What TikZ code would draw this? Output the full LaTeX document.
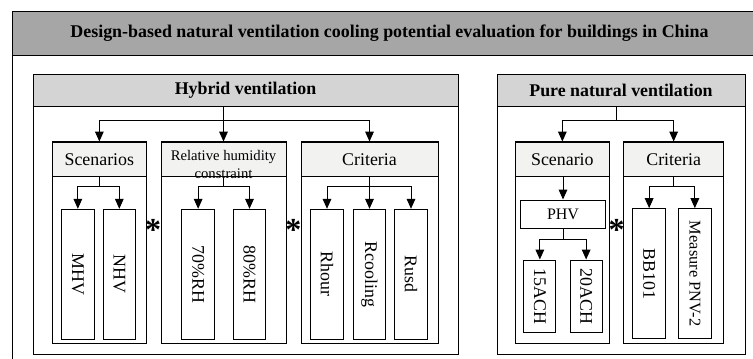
\documentclass[tikz,border=0pt]{standalone}
\usepackage{fontspec}
\setmainfont{Liberation Serif}
\usetikzlibrary{arrows.meta}
\definecolor{bandgray}{RGB}{166,166,166}
\definecolor{headgray}{RGB}{212,212,212}
\definecolor{subgray}{RGB}{242,243,240}
\tikzset{every picture/.style={line width=0.75pt}}
\tikzset{
  titleband/.style={draw, fill=bandgray, inner sep=0pt, font=\fontsize{13.45}{15}\selectfont\bfseries},
  panel/.style={draw, minimum height=210pt, inner sep=0pt},
  panelhead/.style={draw, fill=headgray, minimum height=24pt, inner sep=0pt, font=\fontsize{13.4}{15}\selectfont\bfseries},
  subbox/.style={draw, minimum height=151pt, inner sep=0pt},
  subhead/.style={draw, fill=subgray, minimum height=26pt, inner sep=0pt, font=\fontsize{13.4}{15}\selectfont},
  leaf/.style={draw, fill=white, minimum width=24.25pt, minimum height=97.5pt, inner sep=0pt, font=\fontsize{13.4}{15}\selectfont},
  achbox/.style={draw, fill=white, minimum width=23.8pt, minimum height=54.5pt, inner sep=0pt, font=\fontsize{13.4}{15}\selectfont},
  arr/.style={-{Triangle[length=7.5pt,width=6.5pt]}},
  star/.style={inner sep=0pt, font=\fontsize{24}{24}\selectfont\bfseries}
}

\begin{document}
\begin{tikzpicture}[x=0.75pt,y=0.75pt,yscale=-1,xscale=1]
\useasboundingbox (0,0) rectangle (753,358);

%Shape: Rectangle [outer frame]
\draw (12,11) rectangle (767,372);
% Text Node
\node[titleband, minimum width=566.25pt, minimum height=33pt] (title) at (389.5,33) {Design-based natural ventilation cooling potential evaluation for buildings in China};

%Shape: Rectangle [hybrid panel]
\node[panel, minimum width=318.75pt] (hyb) at (245.5,214) {};
\node[panelhead, minimum width=318.75pt] (hybhead) at (245.5,90) {Hybrid ventilation};
%Shape: Rectangle [pure panel]
\node[panel, minimum width=186pt] (pure) at (621,214) {};
\node[panelhead, minimum width=186pt] (purehead) at (621,90) {Pure natural ventilation};

%Shape: Rectangle [hybrid groups]
\node[subbox, minimum width=70pt] (scen) at (99.35,242.65) {};
\node[subhead, minimum width=70pt] (scenhead) at (99.35,159.35) {Scenarios};
\node[subbox, minimum width=93.75pt] (rh) at (223.5,242.65) {};
\node[subhead, minimum width=93.75pt, align=center, font=\fontsize{11}{13.2}\selectfont] (rhhead) at (223.5,159.35) {\raisebox{-7.5pt}[0pt][0pt]{\begin{tabular}{@{}c@{}}Relative humidity\\constraint\end{tabular}}};
\node[subbox, minimum width=102.75pt] (crit) at (369.5,242.65) {};
\node[subhead, minimum width=102.75pt] (crithead) at (369.5,159.35) {Criteria};

%Shape: Rectangle [pure groups]
\node[subbox, minimum width=70pt] (pscen) at (562.35,242.65) {};
\node[subhead, minimum width=70pt] (pscenhead) at (562.35,159.35) {Scenario};
\node[subbox, minimum width=74.5pt] (pcrit) at (673.65,242.65) {};
\node[subhead, minimum width=74.5pt] (pcrithead) at (673.65,159.35) {Criteria};

% Leaves
\node[leaf] (mhv) at (77.85,274.3) {\rotatebox{-90}{MHV}};
\node[leaf] (nhv) at (119.3,274.3) {\rotatebox{-90}{NHV}};
\node[leaf] (rh70) at (198.15,274.3) {\rotatebox{-90}{70\%RH}};
\node[leaf] (rh80) at (249.5,274.3) {\rotatebox{-90}{80\%RH}};
\node[leaf] (rhour) at (327,274.3) {\rotatebox{-90}{Rhour}};
\node[leaf] (rcool) at (369.5,274.3) {\rotatebox{-90}{Rcooling}};
\node[leaf] (rusd) at (411,274.3) {\rotatebox{-90}{Rusd}};
\node[draw, fill=white, minimum width=64.2pt, minimum height=21.2pt, inner sep=0pt, font=\fontsize{12}{14}\selectfont] (phv) at (563,214.15) {PHV};
\node[achbox] (ach15) at (539.85,296.35) {\rotatebox{-90}{15ACH}};
\node[achbox] (ach20) at (586.15,296.35) {\rotatebox{-90}{20ACH}};
\node[leaf] (bb) at (649.15,273.65) {\rotatebox{-90}{BB101}};
\node[leaf, font=\fontsize{12.3}{14}\selectfont] (pnv) at (694.85,273.65) {\rotatebox{-90}{Measure PNV-2}};

% Asterisks
\node[star] (st1) at (153,230) {*};
\node[star] (st2) at (293.3,230) {*};
\node[star] (st3) at (616.7,230) {*};

% Connectors
\coordinate (hybj) at (223.5,120);
\draw (hybhead.south -| hybj) -- (hybj);
\draw[arr] (hybj) -- (rhhead.north);
\draw[arr] (hybj) -| (scenhead.north);
\draw[arr] (hybj) -| (crithead.north);

\coordinate (purej) at (616,120);
\draw (purehead.south -| purej) -- (purej);
\draw[arr] (purej) -| (pscenhead.north);
\draw[arr] (purej) -| (pcrithead.north);

\coordinate (scj) at (99.35,186.7);
\draw (scenhead.south) -- (scj);
\draw[arr] (scj) -| (mhv.north);
\draw[arr] (scj) -| (nhv.north);

\coordinate (rhj) at (223.5,186.7);
\draw (rhhead.south) -- (rhj);
\draw[arr] (rhj) -| (rh70.north);
\draw[arr] (rhj) -| (rh80.north);

\coordinate (crj) at (369.5,186.7);
\draw (crithead.south) -- (crj);
\draw[arr] (crj) -| (rhour.north);
\draw[arr] (crj) -- (rcool.north);
\draw[arr] (crj) -| (rusd.north);

\draw[arr] (pscenhead.south -| phv.north) -- (phv.north);
\coordinate (phj) at (563,239);
\draw (phv.south) -- (phj);
\draw[arr] (phj) -| (ach15.north);
\draw[arr] (phj) -| (ach20.north);

\coordinate (pcj) at (673.65,186.7);
\draw (pcrithead.south) -- (pcj);
\draw[arr] (pcj) -| (bb.north);
\draw[arr] (pcj) -| (pnv.north);

\end{tikzpicture}
\end{document}
